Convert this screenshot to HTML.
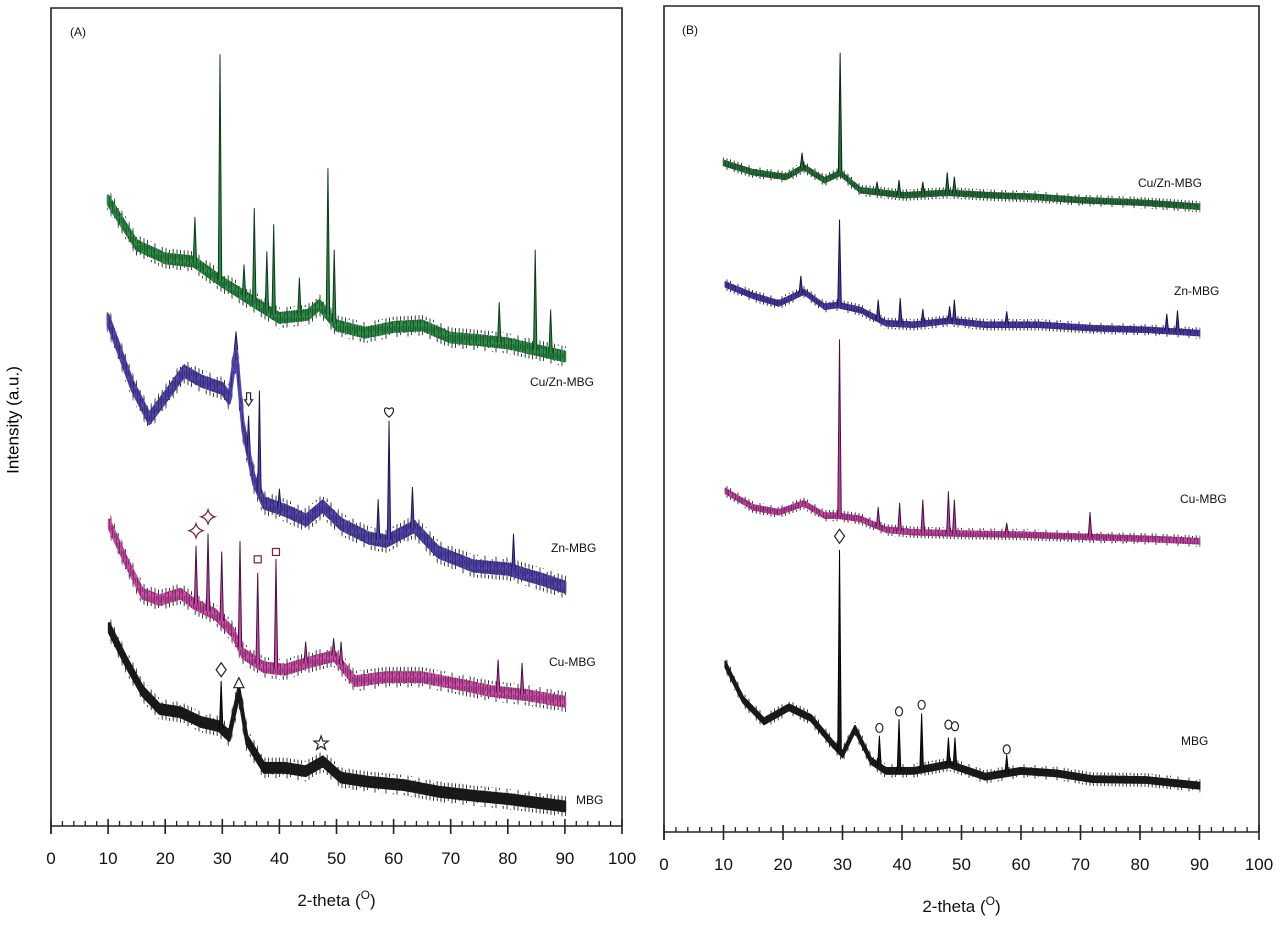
<!DOCTYPE html>
<html><head><meta charset="utf-8"><style>
html,body{margin:0;padding:0;background:#fff;}
svg{display:block;font-family:"Liberation Sans",Arial,sans-serif;}
</style></head><body>
<svg id="chart" width="1280" height="925" viewBox="0 0 1280 925">
<defs>
<pattern id="hatchDark" patternUnits="userSpaceOnUse" width="7" height="9">
<line x1="0.6" y1="0" x2="0.6" y2="9" stroke="#111" stroke-width="0.8"/>
<line x1="2.7" y1="2" x2="2.7" y2="7" stroke="#111" stroke-width="0.8"/>
<line x1="4.4" y1="0" x2="4.4" y2="9" stroke="#111" stroke-width="0.7"/>
<line x1="6.1" y1="3" x2="6.1" y2="9" stroke="#111" stroke-width="0.7"/>
</pattern>
<pattern id="hatchSparse" patternUnits="userSpaceOnUse" width="11" height="13">
<line x1="1" y1="0" x2="1" y2="13" stroke="#222" stroke-width="0.8"/>
<line x1="4.5" y1="3" x2="4.5" y2="10" stroke="#222" stroke-width="0.8"/>
<line x1="8.2" y1="0" x2="8.2" y2="8" stroke="#222" stroke-width="0.8"/>
</pattern>
</defs>
<rect x="0" y="0" width="1280" height="925" fill="#fff"/>
<g id="panelA"></g>
<g id="panelB"></g>
<text x="14" y="420" font-size="17" transform="rotate(-90 14 420)" text-anchor="middle" dominant-baseline="middle">Intensity (a.u.)</text>
</svg>
<script>
// ---------- Panel A data ----------
const xTicks = [0,10,20,30,40,50,60,70,80,90,100];
const aCuZnX = [10,15,20,25,30,35,40,45,47,50,55,60,65,70,75,80,85,90];
const aCuZnY = [765,710,694,690,665,643,621,625,637,612,603,610,612,597,594,590,582,574];
const aCuZnPkX = [29.6,48.5,35.6,39,37.8,43.5,49.6,78.5,84.8,87.5,25.2,33.8];
const aCuZnPkY = [943,804,755,735,702,670,704,640,704,631,744,686];

const aZnX = [10,14.2,17.2,20.3,23.3,26.3,30,31.2,32.4,33.6,35.5,37.3,41,44.7,47.6,50.8,55.7,58.7,63.6,67.8,73.9,80,86.2,90];
const aZnY = [619,539,498,527,556,544,535,523,582,489,424,395,386,374,391,369,352,348,366,335,318,314,301,292];
const aZnPkX = [32.4,34.6,36.5,59.2,63.3,57.3,81,40];
const aZnPkY = [604,501,532,495,414,399,357,412];

const aCuX = [10.2,13,16,19,22.7,25.2,28.7,31.8,33.6,37.3,41,44.6,49.6,53.2,58.7,64.8,70.9,77,83.2,90];
const aCuY = [369,326,284,276,284,271,259,237,211,194,191,199,208,177,182,182,174,165,160,152];
const aCuPkX = [25.4,27.5,29.9,33.1,36.2,39.4,44.6,49.5,50.8,78.3,82.5];
const aCuPkY = [342,357,335,348,309,326,225,229,225,203,199];

const aMbgX = [10.2,13,16,19,22.7,26.3,29.4,31.2,32.9,34.3,37.3,41,44.6,47.6,50.8,55.7,61.8,67.8,73.9,80,90];
const aMbgY = [242,203,165,143,139,127,122,110,165,105,71,71,67,79,59,54,50,42,37,33,24];
const aMbgPkX = [29.8];
const aMbgPkY = [177];

// ---------- Panel B data ----------
const bCuZnX = [10,14.8,20.5,23.5,27,29.6,33,40.3,47.6,54.8,62,70,80,90];
const bCuZnY = [810,799,793,805,789,798,777,771,774,771,769,765,762,757];
const bCuZnPkX = [29.6,23.2,35.8,39.5,43.5,47.6,48.8];
const bCuZnPkY = [943,822,787,789,787,798,793];

const bZnX = [10.3,15,19.3,23.5,27,29.2,33,37.3,42,48,54,63,72,81,90];
const bZnY = [663,649,640,654,636,638,632,616,614,619,614,614,610,608,604];
const bZnPkX = [29.5,23,36,39.7,43.5,48,48.8,57.6,84.5,86.3];
const bZnPkY = [741,673,644,646,633,636,644,630,627,631];

const bCuX = [10.3,15,19.3,23.5,27,29.2,33,37.3,42,51,60,72,81,90];
const bCuY = [413,393,387,398,383,383,379,366,363,361,360,357,355,352];
const bCuPkX = [29.5,36,39.6,43.5,47.8,48.8,71.6,57.6];
const bCuPkY = [596,393,398,402,412,402,387,374];

const bMbgX = [10.3,13.3,16.8,21,24.7,28.2,30,32.1,34.8,37.3,42,48,54,60,66,72,81,90];
const bMbgY = [203,160,134,151,138,108,94,125,86,74,74,82,67,74,71,64,63,56];
const bMbgPkX = [29.5,36.2,39.5,43.3,47.8,48.9,57.6];
const bMbgPkY = [341,116,136,143,114,114,93];

// markers: kind, x, y(a.u.)
const aMarkKind = ['star4','star4','square','square','diamond','triangle','star5','arrow','heart'];
const aMarkX = [25.4,27.5,36.2,39.4,29.8,32.9,47.3,34.6,59.2];
const aMarkY = [361,378,326,335,191,174,101,521,506];
const bMarkKind = ['diamond','circle','circle','circle','circle','circle','circle'];
const bMarkX = [29.5,36.2,39.5,43.3,47.8,48.9,57.6];
const bMarkY = [358,126,146,154,130,128,100];

const NS='http://www.w3.org/2000/svg';
function mk(parent,tag,attrs){const e=document.createElementNS(NS,tag);for(const k in attrs)e.setAttribute(k,attrs[k]);parent.appendChild(e);return e;}

function panel(g, box, label){
  const sx = v => box.x0 + (v/100)*(box.x1-box.x0);
  const sy = v => box.axisY - (v/1000)*(box.axisY-box.top);
  const frame = mk(g,'path',{d:`M${box.x0},${box.axisY+8} L${box.x0},${box.top} L${box.x1},${box.top} L${box.x1},${box.axisY}`,fill:'none',stroke:'#222','stroke-width':1.6});
  
  
  const ax = mk(g,'line',{x1:box.x0,y1:box.axisY,x2:box.x1,y2:box.axisY,stroke:'#222','stroke-width':1.6});
  
  
  for(let v=2; v<100; v+=2){
    if(v%10===0) continue;
    const t=mk(g,'line',{x1:sx(v),x2:sx(v),y1:box.axisY,y2:box.axisY-5,stroke:'#222','stroke-width':1.3});
    
    
  }
  xTicks.forEach(v=>{
    const t=mk(g,'line',{x1:sx(v),x2:sx(v),y1:box.axisY-7,y2:box.axisY+8,stroke:'#222','stroke-width':1.6});
    
    
    const l=mk(g,'text',{x:sx(v),y:box.axisY+38,'font-size':17,'text-anchor':'middle',fill:'#111'});
    l.textContent=v;
    
    
  });
  const tt=mk(g,'text',{x:(sx(0)+sx(100))/2,y:box.axisY+80,'font-size':17,'text-anchor':'middle',fill:'#111'});
  tt.innerHTML='2-theta (<tspan dy="-7" font-size="12">O</tspan><tspan dy="7">)</tspan>';
  
  
  const pl=mk(g,'text',{x:box.labX,y:box.labY,'font-size':12,fill:'#111'});
  pl.textContent=label;
  
  
  return {sx,sy};
}

function interp(xs,ys,x){
  if(x<=xs[0])return ys[0];
  for(let i=1;i<xs.length;i++){if(x<=xs[i]){const t=(x-xs[i-1])/(xs[i]-xs[i-1]);return ys[i-1]+t*(ys[i]-ys[i-1]);}}
  return ys[ys.length-1];
}

function bandPath(ax,xs,ys,h){
  const top=xs.map((x,i)=>(i?'L':'M')+ax.sx(x).toFixed(1)+','+(ax.sy(ys[i])-h).toFixed(1)).join(' ');
  const bot=xs.slice().reverse().map((x,j)=>{const i=xs.length-1-j;return 'L'+ax.sx(x).toFixed(1)+','+(ax.sy(ys[i])+h).toFixed(1);}).join(' ');
  return top+' '+bot+' Z';
}

function series(g,ax,xs,ys,pkx,pky,color,dark,name,band,lab){
  const sg=mk(g,'g',{});
  
  
  const outer=mk(sg,'path',{d:bandPath(ax,xs,ys,band*1.0),fill:'url(#hatchSparse)',stroke:'url(#hatchSparse)','stroke-width':band*0.3,'stroke-linejoin':'round'});
  
  
  const core=mk(sg,'path',{d:bandPath(ax,xs,ys,band*0.5),fill:color,stroke:color,'stroke-width':band*0.3,'stroke-linejoin':'round'});
  
  
  const hatch=mk(sg,'path',{d:bandPath(ax,xs,ys,band*0.7),fill:'url(#hatchDark)',opacity:0.55});
  
  
  pkx.forEach((px,i)=>{
    const base=interp(xs,ys,px);
    const p=mk(sg,'path',{d:`M${ax.sx(px-0.3)},${ax.sy(base)} L${ax.sx(px)},${ax.sy(pky[i])} L${ax.sx(px+0.3)},${ax.sy(base)}`,fill:color,stroke:dark,'stroke-width':1,'stroke-linejoin':'round'});
    
    
  });
  const t=mk(g,'text',{x:lab[0],y:lab[1],'font-size':12,fill:'#111'});
  t.textContent=lab[2];
  
  
}

function marker(g,ax,kind,x,y){
  const cx=ax.sx(x), cy=ax.sy(y);
  let e;
  const st={fill:'#fff',stroke:'#222','stroke-width':1.2};
  if(kind==='diamond') e=mk(g,'path',Object.assign({d:`M${cx},${cy-7} L${cx+5},${cy} L${cx},${cy+7} L${cx-5},${cy} Z`},st));
  else if(kind==='triangle') e=mk(g,'path',Object.assign({d:`M${cx},${cy-6} L${cx+5},${cy+4} L${cx-5},${cy+4} Z`},st));
  else if(kind==='square') e=mk(g,'rect',Object.assign({x:cx-3.5,y:cy-3.5,width:7,height:7},st,{stroke:'#7a2030'}));
  else if(kind==='circle') e=mk(g,'ellipse',Object.assign({cx:cx,cy:cy,rx:3.5,ry:4.5},st));
  else if(kind==='star4') e=mk(g,'path',Object.assign({d:`M${cx},${cy-7} Q${cx+1.5},${cy-1.5} ${cx+7},${cy} Q${cx+1.5},${cy+1.5} ${cx},${cy+7} Q${cx-1.5},${cy+1.5} ${cx-7},${cy} Q${cx-1.5},${cy-1.5} ${cx},${cy-7} Z`},st,{stroke:'#7a2030'}));
  else if(kind==='star5'){
    let d='';for(let i=0;i<10;i++){const r=i%2?3:7.5;const a=-Math.PI/2+i*Math.PI/5;d+=(i?'L':'M')+(cx+r*Math.cos(a)).toFixed(1)+','+(cy+r*Math.sin(a)).toFixed(1);}
    e=mk(g,'path',Object.assign({d:d+'Z'},st));
  }
  else if(kind==='arrow') e=mk(g,'path',Object.assign({d:`M${cx-2},${cy-7} L${cx+2},${cy-7} L${cx+2},${cy} L${cx+4},${cy} L${cx},${cy+6} L${cx-4},${cy} L${cx-2},${cy} Z`},st));
  else if(kind==='heart') e=mk(g,'path',Object.assign({d:`M${cx},${cy+5} C${cx-7},${cy} ${cx-5},${cy-7} ${cx},${cy-3} C${cx+5},${cy-7} ${cx+7},${cy} ${cx},${cy+5} Z`},st));
  
  
}

const gA=document.getElementById('panelA');
const A=panel(gA,{x0:51,x1:622,top:8,axisY:826,labX:70,labY:36},'(A)');
series(gA,A,aCuZnX,aCuZnY,aCuZnPkX,aCuZnPkY,'#2a8c45','#0e3a1a','a-cuzn-mbg',9,[530,386,'Cu/Zn-MBG']);
series(gA,A,aZnX,aZnY,aZnPkX,aZnPkY,'#5144b0','#1e1650','a-zn-mbg',10,[551,552,'Zn-MBG']);
series(gA,A,aCuX,aCuY,aCuPkX,aCuPkY,'#cc4aa6','#4a1040','a-cu-mbg',9,[549,666,'Cu-MBG']);
series(gA,A,aMbgX,aMbgY,aMbgPkX,aMbgPkY,'#1a1a1a','#000','a-mbg',9,[576,804,'MBG']);
aMarkKind.forEach((k,i)=>marker(gA,A,k,aMarkX[i],aMarkY[i]));

const gB=document.getElementById('panelB');
const B=panel(gB,{x0:664,x1:1259,top:6,axisY:832,labX:682,labY:34},'(B)');
series(gB,B,bCuZnX,bCuZnY,bCuZnPkX,bCuZnPkY,'#24713a','#0b2612','b-cuzn-mbg',5,[1138,187,'Cu/Zn-MBG']);
series(gB,B,bZnX,bZnY,bZnPkX,bZnPkY,'#4a36a8','#1a1040','b-zn-mbg',5,[1174,295,'Zn-MBG']);
series(gB,B,bCuX,bCuY,bCuPkX,bCuPkY,'#c040a0','#4a1040','b-cu-mbg',5,[1180,503,'Cu-MBG']);
series(gB,B,bMbgX,bMbgY,bMbgPkX,bMbgPkY,'#1a1a1a','#000','b-mbg',6,[1181,745,'MBG']);
bMarkKind.forEach((k,i)=>marker(gB,B,k,bMarkX[i],bMarkY[i]));
</script>
</body></html>
